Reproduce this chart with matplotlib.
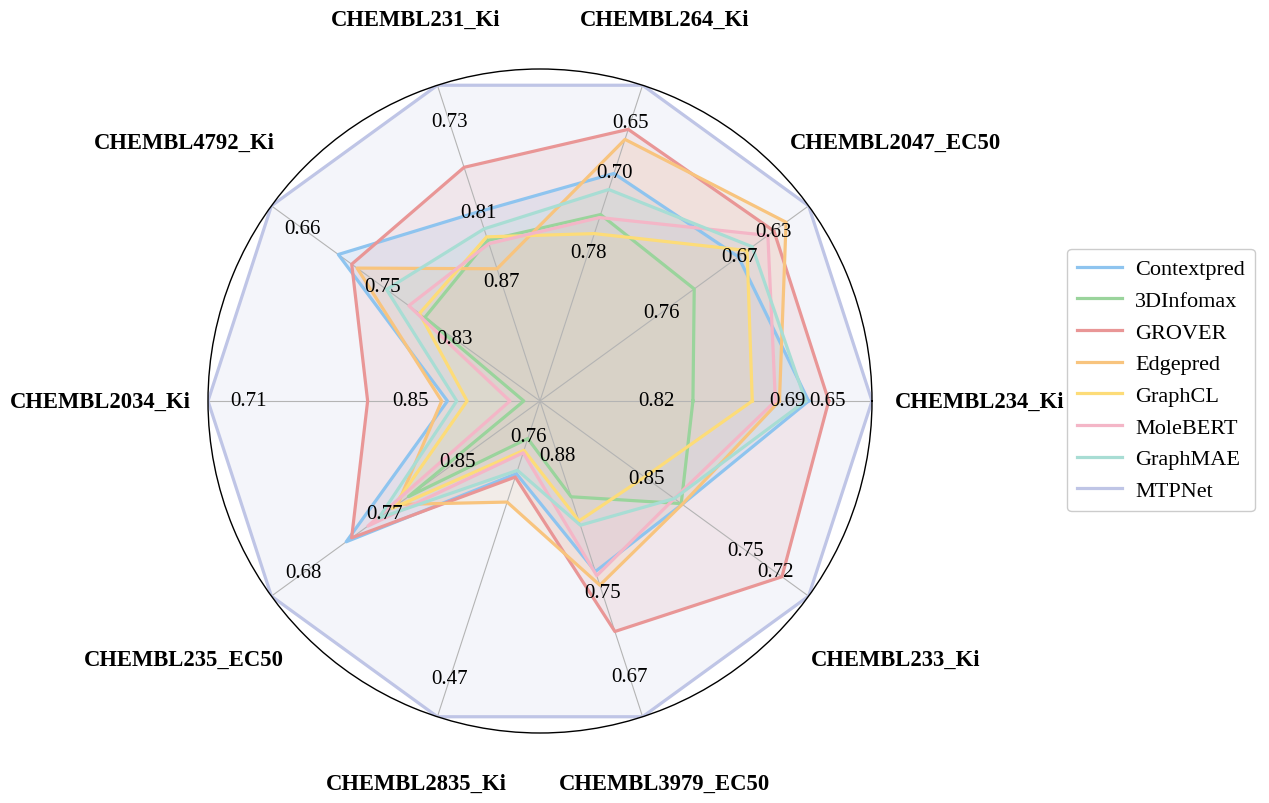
"""
Radar chart: 10 CHEMBL tasks, per-spoke scales (lower metric = further out, MTPNet on the rim).
"""
import numpy as np
import matplotlib
matplotlib.use("Agg")
import matplotlib.pyplot as plt

plt.rcParams["font.family"] = ["Liberation Serif", "DejaVu Serif"]

tasks = ["CHEMBL234_Ki", "CHEMBL2047_EC50", "CHEMBL264_Ki", "CHEMBL231_Ki", "CHEMBL4792_Ki",
         "CHEMBL2034_Ki", "CHEMBL235_EC50", "CHEMBL2835_Ki", "CHEMBL3979_EC50", "CHEMBL233_Ki"]

# metric value mapped to the centre / to the rim of each spoke
axis_center = [0.936, 0.900, 0.928, 0.975, 0.926, 0.962, 0.942, 0.802, 0.932, 0.958]
axis_rim = [0.606, 0.590, 0.613, 0.698, 0.625, 0.675, 0.644, 0.424, 0.632, 0.686]

# values written along each spoke
tick_vals = [[0.82, 0.69, 0.65], [0.76, 0.67, 0.63], [0.78, 0.70, 0.65], [0.87, 0.81, 0.73],
             [0.83, 0.75, 0.66], [0.85, 0.71], [0.85, 0.77, 0.68], [0.76, 0.47],
             [0.88, 0.75, 0.67], [0.85, 0.75, 0.72]]

# per-model scores, same order as tasks
contextpred = [0.669, 0.671, 0.701, 0.809, 0.700, 0.882, 0.727, 0.715, 0.770, 0.814]
infomax3d = [0.784, 0.722, 0.742, 0.834, 0.797, 0.948, 0.796, 0.757, 0.841, 0.815]
grover = [0.649, 0.630, 0.657, 0.770, 0.715, 0.813, 0.733, 0.711, 0.713, 0.713]
edgepred = [0.698, 0.616, 0.667, 0.859, 0.721, 0.877, 0.784, 0.681, 0.757, 0.814]
graphcl = [0.725, 0.661, 0.761, 0.831, 0.791, 0.899, 0.778, 0.743, 0.818, 0.852]
molebert = [0.702, 0.637, 0.745, 0.837, 0.779, 0.936, 0.751, 0.740, 0.766, 0.822]
graphmae = [0.672, 0.655, 0.717, 0.824, 0.754, 0.890, 0.763, 0.719, 0.814, 0.822]
mtpnet = [0.606, 0.590, 0.613, 0.698, 0.625, 0.675, 0.644, 0.424, 0.632, 0.686]

models = ["Contextpred", "3DInfomax", "GROVER", "Edgepred", "GraphCL", "MoleBERT", "GraphMAE", "MTPNet"]
scores = [contextpred, infomax3d, grover, edgepred, graphcl, molebert, graphmae, mtpnet]
colors = ["#8EC4EF", "#9AD49C", "#E99696", "#F8C47E", "#FDDC78", "#F4B6C7", "#A8DDD4", "#BFC5E6"]


def to_r(vals):
    c, r = np.array(axis_center), np.array(axis_rim)
    return (c - np.asarray(vals)) / (c - r)


n = len(tasks)
angles = np.arange(n) * 2 * np.pi / n
closed = np.append(angles, angles[0])

fig = plt.figure(figsize=(12.69, 8.04), dpi=100)
ax = fig.add_axes([208 / 1269, 1 - 734 / 804, 664 / 1269, 664 / 804], projection="polar")
ax.set_ylim(0, 1)
ax.set_yticks([])
ax.set_xticks(angles)
ax.set_xticklabels([])
ax.xaxis.grid(True, color="#b4b4b4", lw=0.8)
ax.spines["polar"].set_color("black")
ax.spines["polar"].set_linewidth(1.0)

for name, vals, col in zip(models, scores, colors):
    r = to_r(vals)
    r = np.append(r, r[0])
    ax.fill(closed, r, color=col, alpha=0.17, lw=0)
    ax.plot(closed, r, color=col, lw=2.3, label=name)

# spoke values
for i, a in enumerate(angles):
    for v in tick_vals[i]:
        rr = (axis_center[i] - v) / (axis_center[i] - axis_rim[i])
        ax.text(a, rr, f"{v:.2f}", ha="center", va="center", fontsize=15, zorder=10)

# task names
for a, t in zip(angles, tasks):
    rl = 1.21 if abs(np.sin(a)) > 0.9 else 1.325
    ax.text(a, rl, t, ha="center", va="center", fontsize=16.3, fontweight="bold")

fig.legend(loc="center left", bbox_to_anchor=(1056 / 1269, 1 - 381 / 804), fontsize=16,
           frameon=True, fancybox=True, edgecolor="#cccccc", framealpha=1.0,
           handlelength=2.0, handletextpad=0.6, borderpad=0.45)

fig.savefig("out.png", dpi=100)
